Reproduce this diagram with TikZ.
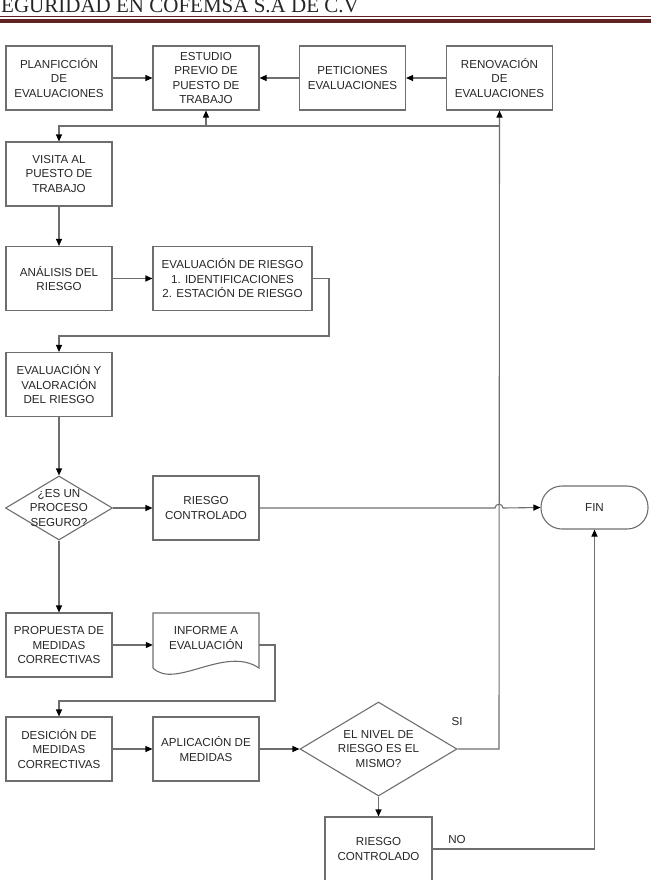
\documentclass[tikz,border=0pt]{standalone}
\usepackage{fontspec}
\setmainfont{Liberation Sans}
\newfontfamily\headfont{Liberation Serif}
\usetikzlibrary{arrows.meta,shapes.geometric}
\definecolor{linegray}{HTML}{6E6E6E}
\definecolor{hdrred}{HTML}{622423}
\definecolor{txtgray}{HTML}{262626}

\begin{document}
\begin{tikzpicture}[x=1pt,y=-1pt,
  txt/.style={align=center,inner sep=0pt,text=txtgray,font=\fontsize{11.6}{14.5}\selectfont},
  box/.style={txt,draw=linegray,line width=1.1pt,minimum width=106pt,minimum height=64pt},
  dia/.style={diamond,draw=linegray,line width=1.1pt,inner sep=0pt},
  plain/.style={draw=linegray,line width=1.1pt},
  flow/.style={plain,-{Triangle[length=7pt,width=6pt,color=black]}}]
\useasboundingbox (0,0) rectangle (651,880);

\node[anchor=base west,inner sep=0pt,text=black!85,font=\headfont\fontsize{21}{21}\selectfont] (titulo) at (1,13) {EGURIDAD EN COFEMSA S.A DE C.V};
\draw[hdrred,line width=0.8pt] (0,16.8) -- (651,16.8);
\draw[hdrred,line width=3.8pt] (0,21.3) -- (651,21.3);

\node[box] (plan) at (59,78) {PLANFICCIÓN\\DE\\EVALUACIONES};
\node[box] (estudio) at (206,78) {ESTUDIO\\PREVIO DE\\PUESTO DE\\TRABAJO};
\node[box] (peticiones) at (352.5,78) {PETICIONES\\EVALUACIONES};
\node[box] (renovacion) at (499.5,78) {RENOVACIÓN\\DE\\EVALUACIONES};

\node[box] (visita) at (59,174) {VISITA AL\\PUESTO DE\\TRABAJO};
\node[box] (analisis) at (59,278.5) {ANÁLISIS DEL\\RIESGO};
\node[box,minimum width=159pt] (evalriesgo) at (232.5,278.5) {EVALUACIÓN DE RIESGO\\1. IDENTIFICACIONES\\2. ESTACIÓN DE RIESGO};
\node[box] (valoracion) at (59,384.5) {EVALUACIÓN Y\\VALORACIÓN\\DEL RIESGO};

\node[dia,minimum width=107pt,minimum height=64pt] (seguro) at (59,508) {};
\node[txt] (segurotxt) at (seguro) {¿ES UN\\PROCESO\\SEGURO?};
\node[box] (controlado) at (206,508) {RIESGO\\CONTROLADO};
\node[box,minimum width=107pt,minimum height=43pt,rounded corners=21pt] (fin) at (594.5,507.5) {FIN};

\node[box] (propuesta) at (59,645) {PROPUESTA DE\\MEDIDAS\\CORRECTIVAS};
\node[txt,minimum width=106pt,minimum height=64pt] (informe) at (206,645) {INFORME A\\EVALUACIÓN\\\mbox{}};
\draw[plain] (153,668) -- (153,613) -- (259,613) -- (259,668) .. controls (225,645) and (175,690) .. (153,668) -- cycle;

\node[box] (desicion) at (59,749) {DESICIÓN DE\\MEDIDAS\\CORRECTIVAS};
\node[box] (aplicacion) at (206,749) {APLICACIÓN DE\\MEDIDAS};
\node[dia,minimum width=157pt,minimum height=94pt] (nivel) at (378.5,749) {};
\node[txt] (niveltxt) at (nivel) {EL NIVEL DE\\RIESGO ES EL\\MISMO?};
\node[box,minimum width=107pt] (controlado2) at (378.5,849) {RIESGO\\CONTROLADO};

\node[txt] (si) at (457,721) {SI};
\node[txt] (no) at (457,839) {NO};

\coordinate (subida) at (499,749);
\coordinate (retorno) at (499,126);
\coordinate (retizq) at (59,126);
\coordinate (retmed) at (206,126);
\coordinate (bajada1) at (329,336);
\coordinate (bajada2) at (275,701);
\coordinate (salto) at (499,508);

\draw[flow] (plan) -- (estudio);
\draw[flow] (peticiones) -- (estudio);
\draw[flow] (renovacion) -- (peticiones);
\draw[flow] (nivel.east) -- (subida) -- (renovacion.south);
\draw[flow] (retorno) -- (retizq) -- (visita.north);
\draw[flow] (retmed) -- (estudio.south);
\draw[flow] (visita) -- (analisis);
\draw[flow] (analisis) -- (evalriesgo);
\draw[flow] (evalriesgo.east) -| (bajada1) -| (valoracion.north);
\draw[flow] (valoracion) -- (seguro.north);
\draw[flow] (seguro.east) -- (controlado.west);
\draw[flow] (controlado.east) -- ([xshift=-4pt]salto) .. controls ([xshift=-4pt,yshift=5pt]salto) and ([xshift=4pt,yshift=5pt]salto) .. ([xshift=4pt]salto) -- (fin.west);
\draw[flow] (seguro.south) -- (propuesta.north);
\draw[flow] (propuesta) -- (informe);
\draw[flow] (informe.east) -| (bajada2) -| (desicion.north);
\draw[flow] (desicion) -- (aplicacion);
\draw[flow] (aplicacion) -- (nivel.west);
\draw[flow] (nivel.south) -- (controlado2.north);
\draw[flow] (controlado2.east) -| (fin.south);

\end{tikzpicture}
\end{document}
